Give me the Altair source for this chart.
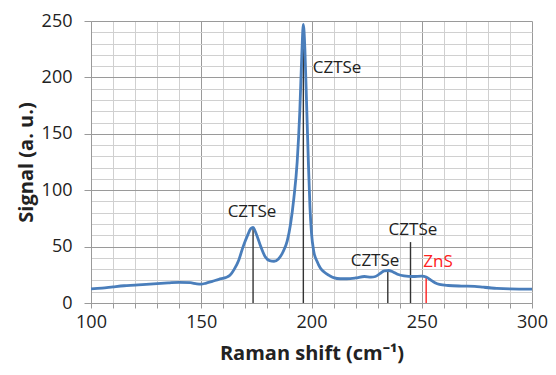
import altair as alt
import pandas as pd

# Raman spectrum
raman_x = [100, 105, 110, 115, 120, 125, 130, 135, 140, 145, 148, 150, 152, 155, 158,
           161, 163, 165, 167, 169, 171, 172.5, 173.5, 175, 177, 179, 181, 183, 185,
           187, 189, 190.5, 192, 193.5, 194.7, 195.6, 196.3, 197, 197.8, 198.5, 199.3,
           200, 201, 202.5, 204, 206, 208, 210, 213, 216, 220, 224, 227, 229, 231, 233,
           235, 237, 239, 242, 246, 250, 252, 254, 256, 258, 262, 268, 274, 278, 284,
           290, 300]
signal = [12.5, 13.2, 14.3, 15.3, 15.8, 16.5, 17.2, 17.8, 18.3, 18.0, 17.0, 16.8, 17.5,
          19.2, 21.0, 22.5, 24.5, 30.0, 38.0, 50.0, 60.0, 66.0, 67.0, 61.0, 50.0, 41.0,
          37.5, 37.0, 39.0, 45.0, 55.0, 70.0, 93.0, 125.0, 170.0, 220.0, 247.0, 225.0,
          175.0, 130.0, 85.0, 62.0, 46.0, 37.0, 31.0, 27.0, 24.5, 22.5, 21.5, 21.5, 22.2,
          23.5, 23.0, 23.5, 26.0, 28.5, 28.8, 27.5, 25.5, 24.0, 23.5, 23.8, 23.0, 20.5,
          18.0, 16.5, 15.5, 15.0, 14.8, 14.0, 13.0, 12.5, 12.3]

# Peak marker lines
marker_x = [173.5, 196.3, 234.6, 244.9, 252.0]
marker_top = [67, 247, 28.5, 54, 23]
marker_color = ["#333333", "#333333", "#333333", "#333333", "#ff2020"]

# Peak labels
label_text = ["CZTSe", "CZTSe", "CZTSe", "CZTSe", "ZnS"]
label_x = [173.0, 211.6, 228.8, 246.0, 257.4]
label_y = [80.8, 208.5, 37.0, 64.4, 36.6]
label_color = ["#222222", "#222222", "#222222", "#222222", "#ff2020"]

x_ticks = list(range(100, 301, 10))
y_ticks = list(range(0, 251, 10))

spec_df = pd.DataFrame({"x": raman_x, "y": signal})
mark_df = pd.DataFrame({"x": marker_x, "top": marker_top, "c": marker_color, "zero": 0})
lab_df = pd.DataFrame({"t": label_text, "x": label_x, "y": label_y, "c": label_color})

major_test = "datum.value % 50 === 0"
grid_color = {"condition": {"test": major_test, "value": "#9a9a9a"}, "value": "#d0d0d0"}

x_scale = alt.Scale(domain=[100, 300], nice=False, zero=False)
y_scale = alt.Scale(domain=[0, 250], nice=False)


def x_axis():
    return alt.Axis(
        values=x_ticks, labelExpr=f"{major_test} ? datum.label : ''",
        labelOverlap=False, labelFlush=False,
        title="Raman shift (cm⁻¹)", gridColor=grid_color, tickSize=5,
        labelPadding=5, titlePadding=12,
    )


def y_axis():
    return alt.Axis(
        values=y_ticks, labelExpr=f"{major_test} ? datum.label : ''",
        labelOverlap=False, labelFlush=False,
        title="Signal (a. u.)", gridColor=grid_color, tickSize=7,
        tickOpacity={"condition": {"test": major_test, "value": 1}, "value": 0},
        labelPadding=12, titlePadding=5,
    )


rules = alt.Chart(mark_df).mark_rule(strokeWidth=1.4).encode(
    x=alt.X("x:Q", scale=x_scale, axis=x_axis()),
    y=alt.Y("zero:Q", scale=y_scale, axis=y_axis()),
    y2="top:Q",
    color=alt.Color("c:N", scale=None),
)

line = alt.Chart(spec_df).mark_line(
    color="#4a7ebb", strokeWidth=2.8, interpolate="monotone"
).encode(
    x=alt.X("x:Q", scale=x_scale, axis=x_axis()),
    y=alt.Y("y:Q", scale=y_scale, axis=y_axis()),
)

labels = alt.Chart(lab_df).mark_text(
    font="Open Sans", fontSize=17, align="center", baseline="middle"
).encode(
    x=alt.X("x:Q", scale=x_scale, axis=x_axis()),
    y=alt.Y("y:Q", scale=y_scale, axis=y_axis()),
    text="t:N",
    color=alt.Color("c:N", scale=None),
)

chart = alt.layer(rules, line, labels).properties(
    width=441, height=282,
    padding={"left": 8, "top": 4, "right": 0, "bottom": 3},
).configure_view(stroke="transparent").configure_axis(
    labelFont="Open Sans", labelFontSize=18, labelColor="#222222",
    titleFont="Open Sans", titleFontSize=20, titleFontWeight="bold", titleColor="#222222",
    domainColor="#9a9a9a", tickColor="#9a9a9a",
)

chart.save("out.html", embed_options={"renderer": "svg", "actions": False})
